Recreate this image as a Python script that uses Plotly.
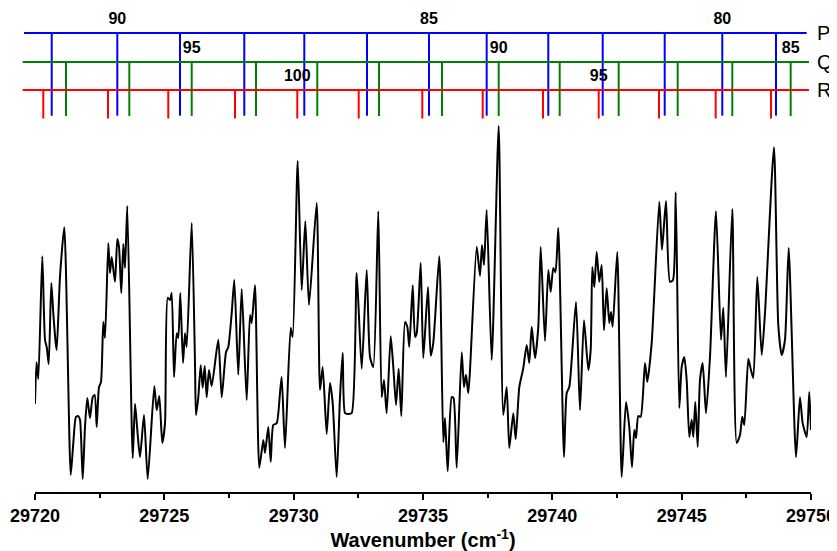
import plotly.graph_objects as go

# ---------------- spectrum ----------------
wavenumber = [
    29720.000, 29720.058, 29720.128, 29720.282, 29720.387, 29720.452, 29720.530, 29720.630,
    29720.707, 29720.800, 29720.839, 29720.966, 29721.133, 29721.380, 29721.481, 29721.585,
    29721.674, 29721.740, 29721.844, 29721.933, 29722.022, 29722.126, 29722.231, 29722.308,
    29722.385, 29722.474, 29722.551, 29722.640, 29722.706, 29722.834, 29722.899, 29722.965,
    29723.093, 29723.182, 29723.247, 29723.336, 29723.414, 29723.479, 29723.568, 29723.777,
    29723.866, 29723.955, 29724.059, 29724.214, 29724.357, 29724.612, 29724.705, 29724.805,
    29724.921, 29725.026, 29725.130, 29725.219, 29725.285, 29725.374, 29725.478, 29725.540,
    29725.617, 29725.722, 29725.799, 29725.865, 29726.058, 29726.185, 29726.224, 29726.313,
    29726.406, 29726.483, 29726.560, 29726.638, 29726.727, 29726.831, 29727.086, 29727.218,
    29727.384, 29727.473, 29727.604, 29727.705, 29727.859, 29727.991, 29728.184, 29728.312,
    29728.377, 29728.505, 29728.671, 29728.826, 29728.892, 29729.019, 29729.112, 29729.212,
    29729.344, 29729.471, 29729.537, 29729.665, 29729.885, 29729.962, 29730.156, 29730.310,
    29730.450, 29730.593, 29730.890, 29731.018, 29731.122, 29731.277, 29731.404, 29731.509,
    29731.663, 29731.791, 29731.895, 29731.984, 29732.100, 29732.243, 29732.436, 29732.630,
    29732.823, 29732.951, 29733.078, 29733.272, 29733.403, 29733.492, 29733.596, 29733.751,
    29733.852, 29733.956, 29734.060, 29734.161, 29734.304, 29734.393, 29734.470, 29734.602,
    29734.690, 29734.756, 29734.911, 29735.011, 29735.193, 29735.297, 29735.398, 29735.630,
    29735.785, 29735.850, 29735.955, 29736.109, 29736.179, 29736.302, 29736.496, 29736.585,
    29736.662, 29736.751, 29736.817, 29737.076, 29737.203, 29737.281, 29737.358, 29737.462,
    29737.656, 29737.926, 29738.104, 29738.235, 29738.336, 29738.491, 29738.583, 29738.723,
    29738.877, 29739.009, 29739.109, 29739.202, 29739.330, 29739.457, 29739.550, 29739.716,
    29739.844, 29739.936, 29740.037, 29740.122, 29740.230, 29740.451, 29740.555, 29740.656,
    29740.915, 29741.069, 29741.224, 29741.390, 29741.483, 29741.545, 29741.622, 29741.715,
    29741.815, 29741.908, 29741.997, 29742.101, 29742.202, 29742.268, 29742.333, 29742.511,
    29742.681, 29742.847, 29742.975, 29743.079, 29743.168, 29743.234, 29743.323, 29743.416,
    29743.582, 29743.671, 29743.841, 29744.135, 29744.239, 29744.394, 29744.548, 29744.664,
    29744.769, 29744.908, 29745.001, 29745.101, 29745.194, 29745.295, 29745.387, 29745.449,
    29745.527, 29745.619, 29745.708, 29745.812, 29745.940, 29746.095, 29746.327, 29746.520,
    29746.609, 29746.713, 29746.957, 29747.127, 29747.255, 29747.344, 29747.421, 29747.576,
    29747.661, 29747.769, 29747.924, 29748.094, 29748.221, 29748.569, 29748.735, 29748.866,
    29748.994, 29749.137, 29749.420, 29749.574, 29749.678, 29749.833, 29749.934, 29750.000,
]
intensity = [
    23.7, 34.9, 30.4, 63.4, 40.9, 39.0, 34.4, 56.2,
    48.1, 40.1, 38.2, 57.8, 71.2, 4.6, 13.2, 20.2,
    20.4, 19.4, 3.5, 17.5, 25.3, 19.9, 25.5, 26.1,
    17.5, 28.2, 29.6, 45.7, 41.4, 66.9, 58.9, 63.2,
    56.5, 68.0, 65.9, 53.5, 66.7, 60.2, 76.9, 9.1,
    23.7, 16.7, 9.4, 20.7, 3.5, 28.5, 22.0, 25.8,
    13.2, 18.5, 52.2, 51.6, 53.5, 30.9, 42.7, 41.4,
    53.5, 34.7, 42.7, 39.0, 72.3, 34.7, 20.7, 25.5,
    34.1, 28.0, 33.9, 25.5, 32.8, 28.5, 40.9, 25.5,
    37.6, 39.0, 48.1, 57.0, 31.5, 54.6, 24.7, 47.6,
    45.4, 55.6, 6.5, 14.0, 10.5, 17.5, 8.1, 18.0,
    18.5, 26.6, 30.9, 11.8, 44.1, 41.7, 89.0, 54.3,
    72.8, 50.3, 77.7, 27.4, 33.6, 15.6, 29.3, 23.9,
    4.0, 25.5, 37.4, 21.2, 21.0, 21.2, 58.9, 33.1,
    59.7, 36.3, 33.6, 75.5, 25.5, 30.1, 21.2, 41.9,
    33.6, 23.4, 33.1, 20.4, 45.7, 44.4, 39.0, 55.6,
    41.7, 42.7, 61.6, 36.0, 55.1, 36.6, 40.1, 63.4,
    13.4, 19.9, 5.6, 25.5, 25.3, 6.5, 37.6, 28.2,
    31.5, 26.6, 32.8, 65.9, 58.1, 66.4, 61.0, 75.8,
    35.5, 98.4, 20.7, 28.2, 11.8, 21.2, 14.2, 28.2,
    33.3, 39.5, 34.7, 44.4, 36.0, 44.4, 65.9, 40.6,
    59.7, 53.8, 60.2, 59.1, 71.0, 9.4, 26.6, 28.2,
    51.1, 22.0, 46.2, 32.8, 38.2, 60.5, 55.1, 64.5,
    56.5, 61.0, 43.5, 54.8, 45.4, 48.4, 44.4, 64.5,
    4.0, 24.2, 17.5, 6.7, 16.7, 14.5, 20.4, 20.2,
    34.7, 29.6, 40.1, 78.0, 65.1, 78.2, 56.5, 57.0,
    80.6, 22.6, 33.6, 36.3, 30.1, 14.8, 19.4, 14.8,
    24.2, 12.1, 30.1, 34.7, 21.2, 36.3, 75.5, 40.9,
    49.5, 30.9, 76.1, 13.2, 15.3, 20.2, 18.0, 35.8,
    33.3, 30.6, 57.8, 36.8, 48.1, 92.7, 44.9, 36.8,
    40.9, 65.6, 9.4, 25.5, 18.5, 14.8, 26.9, 16.7,
]

# ---------------- rotational line positions ----------------
P_J = [91, 90, 89, 88, 87, 86, 85, 84, 83, 82, 81, 80, 79]
P_pos = [29720.646, 29723.182, 29725.606, 29728.091, 29730.411, 29732.835, 29735.232,
         29737.462, 29739.844, 29741.947, 29744.344, 29746.570, 29748.646]
Q_J = [97, 96, 95, 94, 93, 92, 91, 90, 89, 88, 87, 86, 85]
Q_pos = [29721.198, 29723.646, 29726.058, 29728.544, 29730.913, 29733.299, 29735.734,
         29737.926, 29740.284, 29742.565, 29744.846, 29746.957, 29749.214]
R_J = [104, 103, 102, 101, 100, 99, 98, 97, 96, 95, 94, 93, 92]
R_pos = [29720.321, 29722.822, 29725.153, 29727.732, 29730.140, 29732.514, 29734.973,
         29737.308, 29739.639, 29741.792, 29744.123, 29746.315, 29748.453]

branch_names = ["P", "Q", "R"]
x_ticks = [29720, 29725, 29730, 29735, 29740, 29745, 29750]

# ---------------- styling / layout helpers ----------------
FONT = "Liberation Sans, Arial, sans-serif"
branch_colors = {"P": "#0000FF", "Q": "#008000", "R": "#FF0000"}
# stick panel uses its own vertical scale (top = small values)
branch_level = {"P": 33, "Q": 62, "R": 90}
stick_bottom = {"P": 115.7, "Q": 116.0, "R": 118.5}
branch_span = {"P": (29719.575, 29749.833), "Q": (29719.524, 29749.922), "R": (29719.524, 29749.922)}
LABEL_OFFSET = 13

PAGE_OFF = 8                      # the page body offsets the figure by this much
VIEW_W, VIEW_H = 837, 551
W, H = VIEW_W - PAGE_OFF, VIEW_H - PAGE_OFF
plot_left_pg, plot_right_pg = 20, 812
plot_top_pg, plot_bot_pg = PAGE_OFF, 492
ML = plot_left_pg - PAGE_OFF
MR = W - (plot_right_pg - PAGE_OFF)
MT = plot_top_pg - PAGE_OFF
MB = H - (plot_bot_pg - PAGE_OFF)
plot_w = plot_right_pg - plot_left_pg
plot_h = plot_bot_pg - plot_top_pg
px_per_unit = 776 / 30.0
x_left_pg, x_right_pg = 35, 811
dom_x = [(x_left_pg - plot_left_pg) / plot_w, (x_right_pg - plot_left_pg) / plot_w]
x2_range = [29720 - (x_left_pg - plot_left_pg) / px_per_unit,
            29720 + (plot_right_pg - x_left_pg) / px_per_unit]
spec_top_pg = 120
dom_y = [0, (plot_bot_pg - spec_top_pg) / plot_h]
stick_bot_pg = 125
dom_y2 = [(plot_bot_pg - stick_bot_pg) / plot_h, 1]

branches = {"P": (P_J, P_pos), "Q": (Q_J, Q_pos), "R": (R_J, R_pos)}

fig = go.Figure()

fig.add_trace(go.Scatter(
    x=wavenumber, y=intensity, mode="lines",
    line=dict(color="black", width=2, shape="spline", smoothing=0.6),
    xaxis="x", yaxis="y", showlegend=False, hoverinfo="skip"))

for name in branch_names:
    J, pos = branches[name]
    lev = branch_level[name]
    bot = stick_bottom[name]
    xs = [branch_span[name][0], branch_span[name][1], None]
    ys = [lev, lev, None]
    for p in pos:
        xs += [p, p, None]
        ys += [lev, bot, None]
    fig.add_trace(go.Scatter(
        x=xs, y=ys, mode="lines",
        line=dict(color=branch_colors[name], width=2),
        xaxis="x2", yaxis="y2", showlegend=False, hoverinfo="skip"))
    lx = [p for j, p in zip(J, pos) if j % 5 == 0]
    lt = [str(j) for j in J if j % 5 == 0]
    fig.add_trace(go.Scatter(
        x=lx, y=[lev - LABEL_OFFSET] * len(lx), mode="text", text=lt,
        textposition="middle center",
        textfont=dict(family=FONT, size=16, color="black", weight="bold"),
        xaxis="x2", yaxis="y2", showlegend=False, hoverinfo="skip"))

fig.update_layout(
    width=W, height=H,
    margin=dict(l=ML, r=MR, t=MT, b=MB, autoexpand=False),
    paper_bgcolor="white", plot_bgcolor="white",
    font=dict(family=FONT, color="black"),
    xaxis=dict(
        domain=dom_x, range=[29720, 29750], anchor="y", automargin=False,
        tickvals=x_ticks, ticktext=[str(v) for v in x_ticks],
        showgrid=False, zeroline=False,
        showline=True, linecolor="black", linewidth=2,
        ticks="outside", ticklen=6, tickwidth=2, tickcolor="black",
        minor=dict(dtick=2.5, tick0=29720, ticks="outside", ticklen=4,
                   tickwidth=2, tickcolor="black", showgrid=False),
        tickfont=dict(family=FONT, size=18, color="black", weight="bold"),
        title=dict(text="Wavenumber (cm<sup>-1</sup>)", standoff=10,
                   font=dict(family=FONT, size=20, color="black", weight="bold")),
    ),
    yaxis=dict(domain=dom_y, range=[0, 100], anchor="x", visible=False),
    xaxis2=dict(domain=[0, 1], range=x2_range, anchor="y2", visible=False),
    yaxis2=dict(
        domain=dom_y2, range=[stick_bot_pg, plot_top_pg], anchor="x2", side="right",
        automargin=False,
        tickvals=[branch_level[n] for n in branch_names], ticktext=branch_names,
        showgrid=False, zeroline=False, showline=False, ticks="",
        ticklabelstandoff=4,
        tickfont=dict(family=FONT, size=20, color="black"),
    ),
)

fig.write_html("out.html")
